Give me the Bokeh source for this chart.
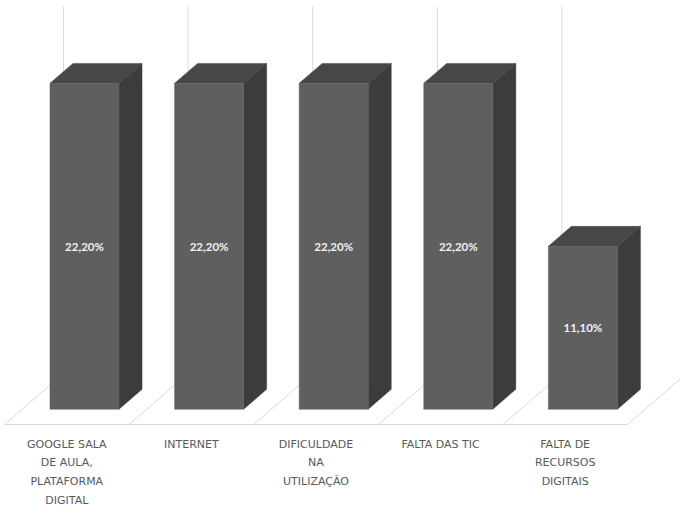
from bokeh.plotting import figure
from bokeh.models import Range1d
from bokeh.embed import file_html
from bokeh.resources import INLINE
from bokeh.core.properties import value

# ---- data ----
categories = ["GOOGLE SALA\nDE AULA,\nPLATAFORMA\nDIGITAL",
              "INTERNET",
              "DIFICULDADE\nNA\nUTILIZAÇÃO",
              "FALTA DAS TIC",
              "FALTA DE\nRECURSOS\nDIGITAIS"]
values = [22.2, 22.2, 22.2, 22.2, 11.1]
value_labels = ["22,20%", "22,20%", "22,20%", "22,20%", "11,10%"]
axis_max = 25.0

# ---- oblique projection (depth offsets in data units) ----
DX = 0.4735      # x shift (category units) for full floor depth
DY = 3.474       # y shift (percent units) for full floor depth
D_FRONT, D_BACK = 0.30, 0.69
HALF_W = 0.277

def proj(x, v, d):
    return x + d * DX, v + d * DY

p = figure(width=680, height=508, output_backend="svg", toolbar_location=None,
           x_range=Range1d(-0.0321, 5.4254), y_range=Range1d(-5.722, 28.883),
           x_axis_type=None, y_axis_type=None, min_border=0,
           outline_line_color=None, background_fill_color="white")
p.grid.visible = False

n = len(categories)
grid_col = "#d9d9d9"

# back-wall vertical gridlines at category boundaries
gx, gy = [], []
for i in range(n):
    x0, y0 = proj(i, 0, 1)
    x1, y1 = proj(i, axis_max, 1)
    gx.append([x0, x1]); gy.append([y0, y1])
p.multi_line(gx, gy, line_color=grid_col, line_width=1)

# floor: diagonals and front edge
fx, fy = [], []
for i in range(n + 1):
    x0, y0 = proj(i, 0, 0)
    x1, y1 = proj(i, 0, 1)
    fx.append([x0, x1]); fy.append([y0, y1])
fx.append([0, n]); fy.append([0, 0])
p.multi_line(fx, fy, line_color=grid_col, line_width=1)

# bars
front_xs, front_ys, side_xs, side_ys, top_xs, top_ys = [], [], [], [], [], []
for i, v in enumerate(values):
    xl, xr = i + 0.5 - HALF_W, i + 0.5 + HALF_W
    a = proj(xl, 0, D_FRONT); b = proj(xr, 0, D_FRONT)
    c = proj(xr, v, D_FRONT); d = proj(xl, v, D_FRONT)
    b2 = proj(xr, 0, D_BACK); c2 = proj(xr, v, D_BACK); d2 = proj(xl, v, D_BACK)
    front_xs.append([a[0], b[0], c[0], d[0]]); front_ys.append([a[1], b[1], c[1], d[1]])
    side_xs.append([b[0], b2[0], c2[0], c[0]]); side_ys.append([b[1], b2[1], c2[1], c[1]])
    top_xs.append([d[0], c[0], c2[0], d2[0]]); top_ys.append([d[1], c[1], c2[1], d2[1]])

p.patches(side_xs, side_ys, fill_color="#3c3c3c", line_color="#3c3c3c", line_width=0.5)
p.patches(top_xs, top_ys, fill_color="#474747", line_color="#474747", line_width=0.5)
p.patches(front_xs, front_ys, fill_color="#5f5f5f", line_color="#5f5f5f", line_width=0.5)

# value labels at centre of front face
lx, ly = [], []
for i, v in enumerate(values):
    x, y = proj(i + 0.5, v / 2, D_FRONT)
    lx.append(x); ly.append(y)
p.text(x=lx, y=ly, text=value_labels, text_align="center", text_baseline="middle",
       text_color="#f2f2f2", text_font=value("Lato"), text_font_style="bold",
       text_font_size="11.5px")

# category labels
cx = [i + 0.5 for i in range(n)]
cy = [-0.89] * n
p.text(x=cx, y=cy, text=categories, text_align="center", text_baseline="top",
       text_color="#595959", text_font=value("DejaVu Sans"), text_font_size="11px",
       text_line_height=1.45)

open("out.html", "w").write(file_html(p, INLINE))
